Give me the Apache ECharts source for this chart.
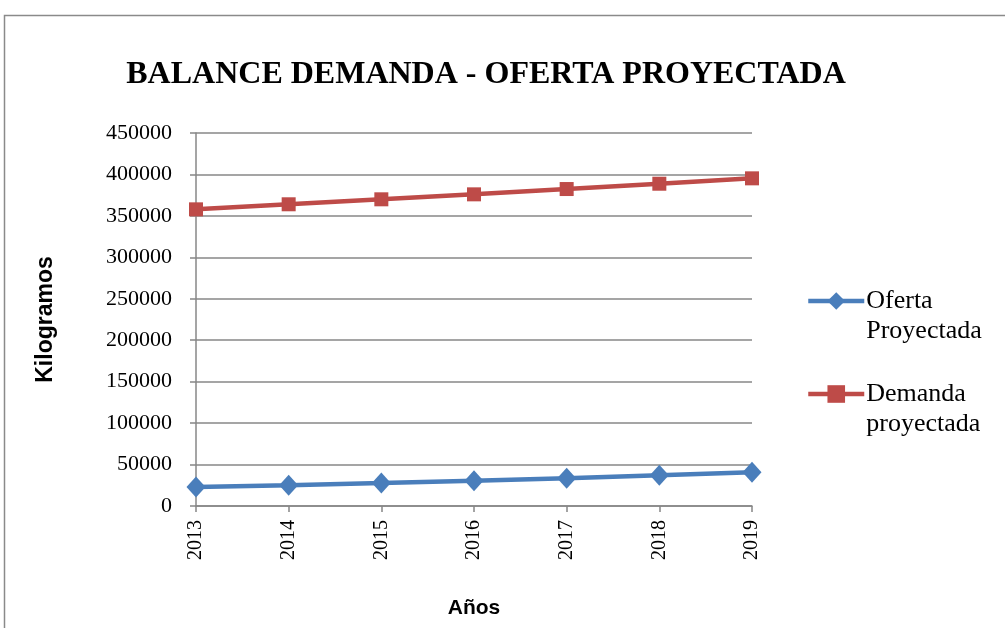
<!DOCTYPE html>
<html>
<head>
<meta charset="utf-8">
<script src="https://cdn.jsdelivr.net/npm/echarts@6/dist/echarts.min.js"></script>
<style>
html,body{margin:0;padding:0;background:#fff;}
#c{width:1005px;height:628px;}
</style>
</head>
<body>
<div id="c"></div>
<script>
var categories = ['2013','2014','2015','2016','2017','2018','2019'];
var ofertaName = 'Oferta Proyectada';
var demandaName = 'Demanda proyectada';
var oferta = [22900, 25000, 27700, 30600, 33400, 37000, 40600];
var demanda = [357900, 364000, 370000, 376000, 382400, 388800, 395300];
var titleText = 'BALANCE DEMANDA - OFERTA PROYECTADA';
var yName = 'Kilogramos';
var xName = 'Años';

var chart = echarts.init(document.getElementById('c'));
var serif = '"Liberation Serif", "Times New Roman", serif';
var sans = '"Liberation Sans", Arial, sans-serif';
var gridColor = '#878787';

chart.setOption({
  animation: false,
  backgroundColor: '#fff',
  graphic: [{
    type: 'rect', silent: true,
    shape: {x: 4.5, y: 15.5, width: 1100, height: 700},
    style: {fill: 'none', stroke: '#8a8a8a', lineWidth: 1.5}
  }],
  title: {
    text: titleText,
    left: 481, top: 54, textAlign: 'center',
    textStyle: {fontFamily: serif, fontWeight: 'bold', fontSize: 32, color: '#000'}
  },
  grid: {left: 196, right: 253, top: 133, bottom: 122, containLabel: false, outerBoundsMode: 'none'},
  legend: {
    orient: 'vertical',
    left: 806, top: 256, padding: 0,
    itemWidth: 56, itemHeight: 22, itemGap: 3,
    data: [ofertaName, demandaName],
    lineStyle: {width: 4.5},
    formatter: function (n) { return '\n' + n.replace(' ', '\n'); },
    textStyle: {fontFamily: serif, fontSize: 26, color: '#000', lineHeight: 30, padding: [0, 0, 0, -3]}
  },
  xAxis: {
    type: 'category', data: categories, boundaryGap: false,
    name: xName, nameLocation: 'middle', nameGap: 92,
    nameTextStyle: {fontFamily: sans, fontWeight: 'bold', fontSize: 21, color: '#000'},
    axisLine: {lineStyle: {color: gridColor, width: 1.5}},
    axisTick: {show: true, length: 6, alignWithLabel: true, lineStyle: {color: gridColor, width: 1.5}},
    axisLabel: {rotate: 90, margin: 14, fontFamily: serif, fontSize: 20, color: '#000'},
    splitLine: {show: false}
  },
  yAxis: {
    type: 'value', min: 0, max: 450000, interval: 50000,
    name: yName, nameLocation: 'middle', nameGap: 139, nameRotate: 90,
    nameTextStyle: {fontFamily: sans, fontWeight: 'bold', fontSize: 23, color: '#000'},
    axisLine: {show: true, lineStyle: {color: gridColor, width: 1.5}},
    axisTick: {show: true, length: 6, lineStyle: {color: gridColor, width: 1.5}},
    axisLabel: {margin: 24, fontFamily: serif, fontSize: 22, color: '#000',
      formatter: function (v) { return String(v); }},
    splitLine: {show: true, lineStyle: {color: gridColor, width: 1.5}}
  },
  series: [{
    name: ofertaName, type: 'line', data: oferta,
    symbol: 'diamond', symbolSize: [19, 21],
    lineStyle: {color: '#4a7ebb', width: 4.5},
    itemStyle: {color: '#4a7ebb'}
  }, {
    name: demandaName, type: 'line', data: demanda,
    symbol: 'rect', symbolSize: 14,
    lineStyle: {color: '#be4b48', width: 4.5},
    itemStyle: {color: '#be4b48'}
  }]
});
</script>
</body>
</html>
